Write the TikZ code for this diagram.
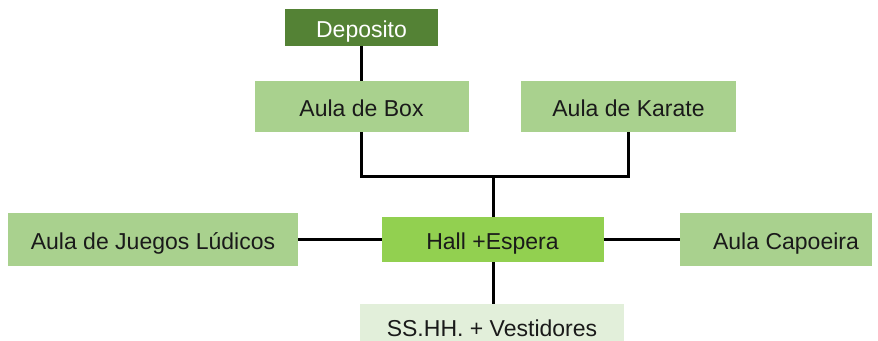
\documentclass[tikz,border=0pt]{standalone}
\usepackage{fontspec}
\setmainfont{Liberation Sans}
\definecolor{lgreen}{HTML}{A9D18E}
\definecolor{hgreen}{HTML}{92D050}
\definecolor{dgreen}{HTML}{548235}
\definecolor{pgreen}{HTML}{E2EFDA}
\definecolor{txt}{HTML}{1A1A1A}
\tikzset{
  room/.style={fill=lgreen, text=txt, inner sep=0pt, outer sep=0pt, text height=20bp, text depth=0pt, font=\fontsize{23.1}{26}\selectfont},
  link/.style={line width=3bp, black}
}
\begin{document}
\begin{tikzpicture}[x=1bp,y=-1bp]
\clip (0,0) rectangle (878,340);
\fill[white] (0,0) rectangle (878,340);
\node[room, fill=dgreen, text=white, minimum width=153bp, minimum height=37bp] (dep) at (361.5,27.5) {Deposito};
\node[room, minimum width=214bp, minimum height=51bp] (box) at (361.5,106.5) {Aula de Box};
\node[room, minimum width=215bp, minimum height=51bp] (kar) at (628.5,106.5) {Aula de Karate};
\node[room, fill=hgreen, minimum width=222bp, minimum height=45bp] (hall) at (492.5,239.5) {Hall +Espera};
\node[room, minimum width=290bp, minimum height=53bp] (jue) at (153,239.5) {Aula de Juegos Lúdicos};
\node[room, minimum width=192bp, minimum height=53bp] (cap) at (776,239.5) {\hspace*{20bp}Aula Capoeira};
\node[room, fill=pgreen, minimum width=264bp, minimum height=45bp] (ss) at (492,326.5) {SS.HH. + Vestidores};
\coordinate (j) at (493,176);
\draw[link] (dep.south) -- (box.north);
\draw[link] (box.south) |- (j) -| (kar.south);
\draw[link] (hall.north -| j) -- (j);
\draw[link] (hall.south -| j) -- (ss.north -| j);
\draw[link] (jue.east) -- (hall.west);
\draw[link] (hall.east) -- (cap.west);
\end{tikzpicture}
\end{document}
